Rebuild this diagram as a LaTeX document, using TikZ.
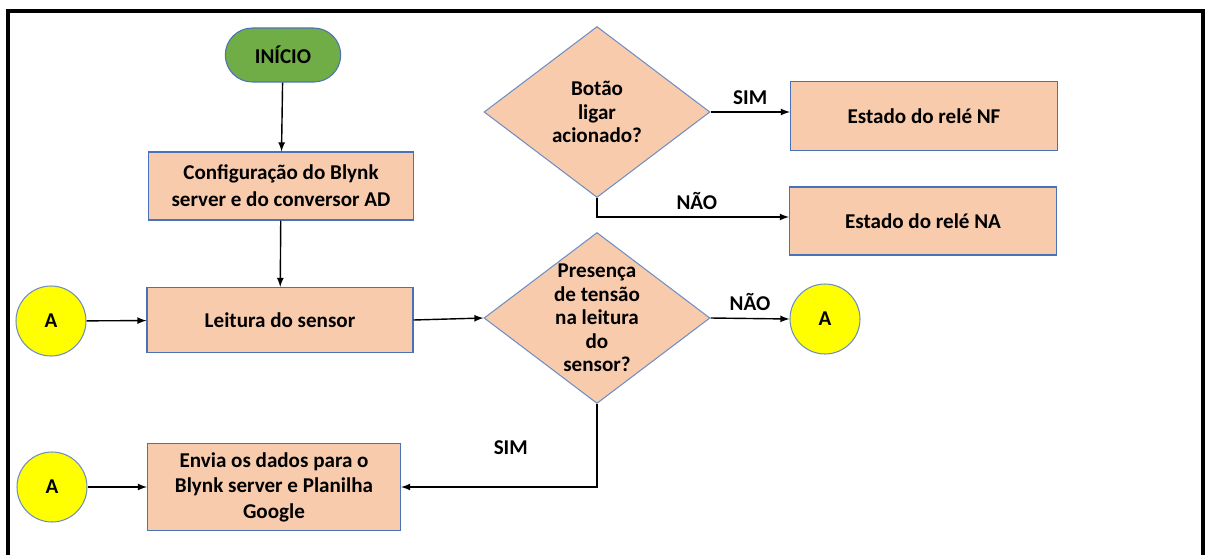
\documentclass[tikz,border=0pt]{standalone}
\usepackage{fontspec}
\setmainfont{Carlito}
\usepackage{xcolor}
\usetikzlibrary{shapes,arrows,positioning,calc}

\definecolor{salmao}{HTML}{F8CBAD}
\definecolor{azulborda}{HTML}{4A72B8}
\definecolor{azulclaro}{HTML}{6F8FC4}
\definecolor{verdeinicio}{HTML}{70AD47}
\definecolor{amarelo}{HTML}{FFFF00}

\begin{document}
\begin{tikzpicture}[>=latex,x=0.02cm,y=-0.02cm,
  texto/.style={font=\bfseries\fontsize{12}{14.5}\selectfont},
  bloco/.style={texto,draw=azulborda,fill=salmao,line width=0.6pt,align=center,inner sep=2pt},
  decisao/.style={texto,diamond,draw=azulclaro,fill=salmao,line width=0.6pt,align=center,
    aspect=1.32,inner sep=-5pt,minimum width=4.52cm,minimum height=3.42cm,
    font=\bfseries\fontsize{12}{13.4}\selectfont},
  conector/.style={texto,circle,draw=azulclaro,fill=amarelo,line width=0.6pt,minimum size=1.4cm},
  terminal/.style={texto,rounded rectangle,draw=azulborda,fill=verdeinicio,line width=0.6pt,
    minimum width=2.3cm,minimum height=1.08cm,inner xsep=16pt},
  seta/.style={->,line width=0.8pt},
  rotulo/.style={texto,inner sep=1pt}]

\useasboundingbox (0,0) rectangle (1205,555);

% moldura
\draw[line width=2.2pt] (8,560) |- (1203,11) -- (1203,560);

% coluna da esquerda
\node[terminal] (inicio) at (283,55) {INÍCIO};
\node[bloco,minimum width=5.3cm,minimum height=1.36cm] (config) at (281,186)
  {Configuração do Blynk\\[1pt] server e do conversor AD};
\node[bloco,minimum width=5.32cm,minimum height=1.3cm] (leitura) at (280,320) {Leitura do sensor};
\node[bloco,minimum width=5.06cm,minimum height=1.74cm] (envia) at (274,487)
  {Envia os dados para o\\ Blynk server e Planilha\\ Google};

\node[conector] (a1) at (51,321) {A};
\node[conector] (a2) at (52,487) {A};

% decisoes
\node[decisao] (botao) at (597,112) {Botão\\ ligar\\ acionado?};
\node[decisao] (tensao) at (597,318) {Presença\\ de tensão\\ na leitura\\ do\\ sensor?};

% saidas do rele
\node[bloco,minimum width=5.34cm,minimum height=1.38cm] (nf) at (924,116) {Estado do relé NF};
\node[bloco,minimum width=5.34cm,minimum height=1.36cm] (na) at (923,221) {Estado do relé NA};
\node[conector] (a3) at (825,319) {A};

% ligacoes
\draw[seta] (inicio) -- (config);
\draw[seta] (config) -- (leitura);
\draw[seta] (a1) -- (leitura);
\draw[seta] (a2) -- (envia);
\draw[seta] (leitura.east) -- (tensao.west);
\draw[seta] (botao.east) -- (botao.east -| nf.west) node[rotulo,midway,above=3pt] {SIM};
\draw[seta] (botao.south) |- ($(na.west)+(0,-4)$) node[rotulo,pos=0.76,above=3pt] {NÃO};
\draw[seta] (tensao.east) -- (a3.west) node[rotulo,midway,above=3pt] {NÃO};
\draw[seta] (tensao.south) |- (envia.east) node[rotulo,pos=0.72,above=17pt] {SIM};

\end{tikzpicture}
\end{document}
